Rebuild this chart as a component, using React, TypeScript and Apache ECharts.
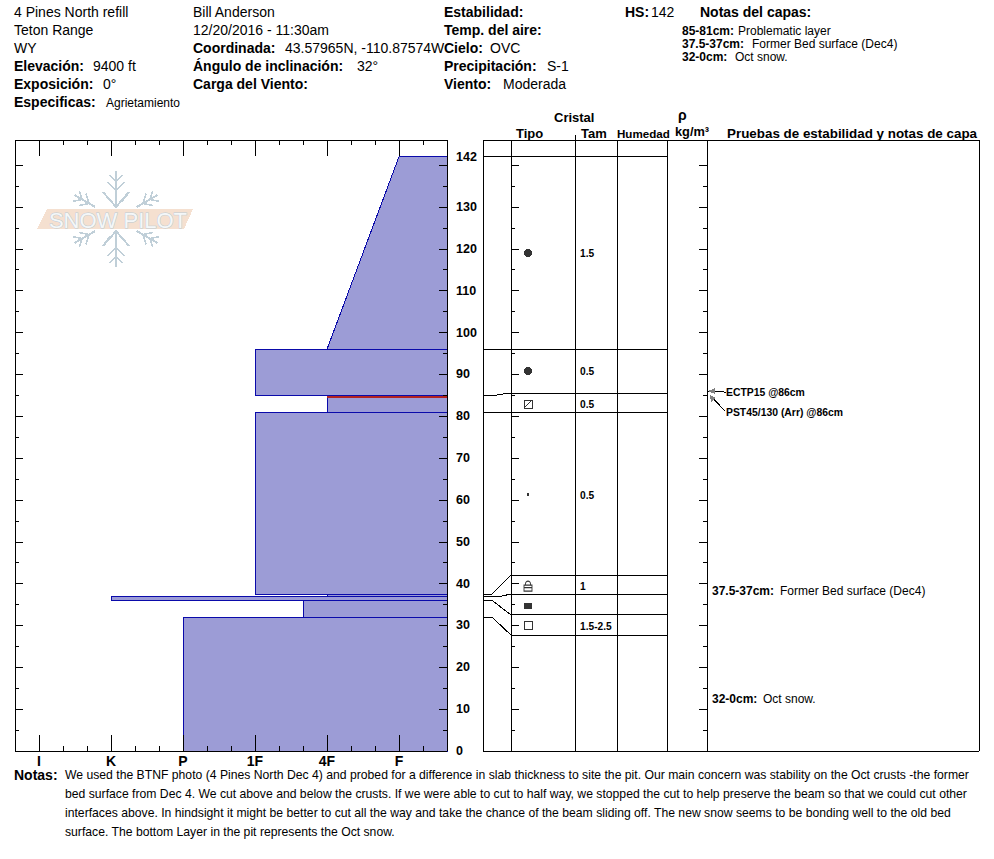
import React, { useEffect, useRef } from "react";
import * as echarts from "echarts";

const FONT = "'Liberation Sans', Arial, sans-serif";
const FRAME = "#000000";
const LAYER_FILL = "#9c9cd6";
const LAYER_STROKE = "#0a0aaa";

// Hardness scale (one hardness step = 3 scale units)
const hardnessMajor = [3, 6, 9, 12, 15, 18];
const hardnessMinor = [4, 5, 7, 8, 10, 11, 13, 14, 16, 17, 19, 20];
const hardnessNames = ["I", "K", "P", "1F", "4F", "F"];
const HARD_MIN = 2;
const HARD_MAX = 20;

// Depth scale (cm)
const DEPTH_MAX = 146;
const depthMajor = [0, 10, 20, 30, 40, 50, 60, 70, 80, 90, 100, 110, 120, 130, 140];
const depthMinor = [5, 15, 25, 35, 45, 55, 65, 75, 85, 95, 105, 115, 125, 135];
const depthLabels = [0, 10, 20, 30, 40, 50, 60, 70, 80, 90, 100, 110, 120, 130, 142];

// Profile layers
const layerTop = [142, 96, 85, 81, 37.5, 37, 36, 32];
const layerBottom = [96, 85, 81, 37.5, 37, 36, 32, 0];
const layerHardTop = [18, 12, 15, 12, 15, 6, 14, 9];
const layerHardBottom = [15, 12, 15, 12, 15, 6, 14, 9];
const problemDepth = [84.6];

// Crystal table
const rowRealDepth = [142, 96, 85, 81, 37.5, 37, 36, 32];
const rowShownDepth = [142, 96, 85.5, 80.8, 42, 37.3, 32.5, 27.7];
const grainDepth = [119, 90.8, 82.9, 61.2, 39.4, 34.6, 29.9];
const grainKind = ["round", "round", "facetRound", "dot", "lock", "solid", "square"];
const sizeDepth = [118.8, 90.6, 82.8, 61, 39.4, 29.8];
const sizeText = ["1.5", "0.5", "0.5", "0.5", "1", "1.5-2.5"];
const testDepth = [86, 86];
const testText = ["ECTP15 @86cm", "PST45/130 (Arr) @86cm"];

// Table layout in the right panel's own scale (offsets from its left edge)
const PANEL_W = 496;
const COL_LEFT = 28;
const COL_TAM = 92;
const COL_HUM = 134;
const COL_RHO = 184;
const COL_TESTS = 224;
const COL_GRAIN = 45;
const COL_SIZE = 97;

const notes = [
  "We used the BTNF photo (4 Pines North Dec 4) and probed for a difference in slab thickness to site the pit. Our main concern was stability on the Oct crusts -the former",
  "bed surface from Dec 4. We cut above and below the crusts. If we were able to cut to half way, we stopped the cut to help preserve the beam so that we could cut other",
  "interfaces above. In hindsight it might be better to cut all the way and take the chance of the beam sliding off. The new snow seems to be bonding well to the old bed",
  "surface. The bottom Layer in the pit represents the Oct snow.",
];

// [x, y, text, weight, size]
const texts: [number, number, string, string, number][] = [
  [14, 12, "4 Pines North refill", "normal", 14],
  [14, 30, "Teton Range", "normal", 14],
  [14, 48, "WY", "normal", 14],
  [14, 66, "Elevación:", "bold", 14],
  [93, 66, "9400 ft", "normal", 14],
  [14, 84, "Exposición:", "bold", 14],
  [103, 84, "0°", "normal", 14],
  [14, 102, "Especificas:", "bold", 14],
  [106, 103, "Agrietamiento", "normal", 12],
  [193, 12, "Bill Anderson", "normal", 14],
  [193, 30, "12/20/2016 - 11:30am", "normal", 14],
  [193, 48, "Coordinada:", "bold", 14],
  [285, 48, "43.57965N, -110.87574W", "normal", 14],
  [193, 66, "Ángulo de inclinación:", "bold", 14],
  [357, 66, "32°", "normal", 14],
  [193, 84, "Carga del Viento:", "bold", 14],
  [444, 12, "Estabilidad:", "bold", 14],
  [444, 30, "Temp. del aire:", "bold", 14],
  [444, 48, "Cielo:", "bold", 14],
  [490, 48, "OVC", "normal", 14],
  [444, 66, "Precipitación:", "bold", 14],
  [547, 66, "S-1", "normal", 14],
  [444, 84, "Viento:", "bold", 14],
  [503, 84, "Moderada", "normal", 14],
  [625, 12, "HS:", "bold", 14],
  [651, 12, "142", "normal", 14],
  [700, 12, "Notas del capas:", "bold", 14],
  [682, 31, "85-81cm:", "bold", 12],
  [738, 31, "Problematic layer", "normal", 12],
  [682, 44, "37.5-37cm:", "bold", 12],
  [752, 44, "Former Bed surface (Dec4)", "normal", 12],
  [682, 57, "32-0cm:", "bold", 12],
  [735, 57, "Oct snow.", "normal", 12],
  [554, 117, "Cristal", "bold", 13],
  [516, 133, "Tipo", "bold", 13],
  [581, 133, "Tam", "bold", 13],
  [617, 133, "Humedad", "bold", 11.6],
  [678, 115, "ρ", "bold", 14],
  [675, 131, "kg/m³", "bold", 12.8],
  [727, 133, "Pruebas de estabilidad y notas de capa", "bold", 13.4],
  [712, 591, "37.5-37cm:", "bold", 12],
  [780, 591, "Former Bed surface (Dec4)", "normal", 12],
  [712, 699, "32-0cm:", "bold", 12],
  [763, 699, "Oct snow.", "normal", 12],
  [14, 775, "Notas:", "bold", 14],
];
const NOTE_Y = [775, 794, 813, 832];

function textEl(x: number, y: number, text: string, weight: string, size: number) {
  return {
    type: "text",
    x,
    y,
    silent: true,
    style: { text, fill: "#000", font: `${weight} ${size}px ${FONT}`, verticalAlign: "middle", align: "left" },
  };
}

function logoElements() {
  const cx = 116;
  const cy = 219;
  const els: any[] = [];
  const add = (pts: number[][], rot: number, w = 1.5) => {
    const c = Math.cos(rot);
    const s = Math.sin(rot);
    els.push({
      type: "polyline",
      silent: true,
      shape: { points: pts.map(([x, y]) => [cx + x * c - y * s, cy + x * s + y * c]) },
      style: { stroke: "#c0cfd8", lineWidth: w, fill: "none" },
    });
  };
  for (const r of [0, Math.PI]) {
    add([[0, -12], [0, -48]], r, 2);
    add([[-13, -27], [0, -12], [13, -27]], r, 2);
    add([[-8, -37], [0, -28], [8, -37]], r);
    add([[-6, -44], [0, -37], [6, -44]], r);
  }
  for (const r of [Math.PI / 3, (2 * Math.PI) / 3, (-Math.PI) / 3, (-2 * Math.PI) / 3]) {
    add([[0, -24], [0, -48]], r, 2);
    add([[-7, -39], [0, -31], [7, -39]], r);
    add([[-6, -46], [0, -39], [6, -46]], r);
    add([[-15, -22], [-12, -14]], r, 1);
  }
  els.push({
    type: "polygon",
    silent: true,
    shape: { points: [[47, 209], [193, 209], [184, 229], [37, 229]] },
    style: { fill: "#f5e0d0" },
  });
  els.push({
    type: "text",
    x: 118,
    y: 220,
    silent: true,
    style: {
      text: "SNOW PILOT",
      font: `normal 22px ${FONT}`,
      fill: "#f4f7f8",
      stroke: "#bccbd4",
      lineWidth: 1,
      align: "center",
      verticalAlign: "middle",
    },
  });
  return els;
}

const GRAIN_SYMBOLS: Record<string, any> = {
  round: { symbol: "circle", symbolSize: 8, itemStyle: { color: "#000" } },
  dot: { symbol: "circle", symbolSize: 3, itemStyle: { color: "#000" } },
  solid: { symbol: "rect", symbolSize: [8, 6], itemStyle: { color: "#000" } },
  square: { symbol: "rect", symbolSize: 8, itemStyle: { color: "none", borderColor: "#000", borderWidth: 1 } },
  facetRound: {
    symbol: "path://M0 0H8V8H0Z M0 8L8 0",
    symbolSize: 8,
    itemStyle: { color: "none", borderColor: "#000", borderWidth: 1 },
  },
  lock: {
    symbol: "path://M0 4H8V10H0Z M0 6.5H8 M1.5 4V2.5A2.5 2.5 0 0 1 6.5 2.5V4",
    symbolSize: [8, 10],
    itemStyle: { color: "none", borderColor: "#000", borderWidth: 1 },
  },
};

function hardAxis(position: string, ticks: number[], length: number, labels = false) {
  return {
    type: "value",
    gridIndex: 0,
    position,
    min: HARD_MIN,
    max: HARD_MAX,
    interval: 1,
    z: 6,
    axisLine: { show: true, onZero: false, lineStyle: { color: FRAME, width: 1 } },
    axisTick: { show: true, inside: true, length, customValues: ticks, lineStyle: { color: FRAME, width: 1 } },
    splitLine: { show: false },
    axisLabel: labels
      ? {
          show: true,
          customValues: hardnessMajor,
          margin: 3,
          color: "#000",
          fontFamily: FONT,
          fontWeight: "bold",
          fontSize: 14,
          formatter: (v: number) => hardnessNames[hardnessMajor.indexOf(v)] ?? "",
        }
      : { show: false },
  };
}

function depthAxis(
  gridIndex: number,
  position: string,
  ticks: number[],
  length: number,
  offset = 0,
  labels = false
) {
  return {
    type: "value",
    gridIndex,
    position,
    offset,
    min: 0,
    max: DEPTH_MAX,
    interval: 10,
    z: 6,
    axisLine: { show: true, onZero: false, lineStyle: { color: FRAME, width: 1 } },
    axisTick: {
      show: length > 0,
      inside: true,
      length,
      customValues: ticks,
      lineStyle: { color: FRAME, width: 1 },
    },
    splitLine: { show: false },
    axisLabel: labels
      ? {
          show: true,
          customValues: depthLabels,
          margin: 9,
          color: "#000",
          fontFamily: FONT,
          fontWeight: "bold",
          fontSize: 12.5,
          formatter: (v: number) => String(v),
        }
      : { show: false },
  };
}

function panelXAxis(position: string) {
  return {
    type: "value",
    gridIndex: 1,
    position,
    min: 0,
    max: PANEL_W,
    z: 6,
    axisLine: { show: true, onZero: false, lineStyle: { color: FRAME, width: 1 } },
    axisTick: { show: false },
    splitLine: { show: false },
    axisLabel: { show: false },
  };
}

// Polylines of the table, in the right panel's scale: [column, depth] points
const tableLines: number[][][] = [
  ...[COL_TAM, COL_HUM, COL_RHO].map((c) => [[c, 0], [c, c === COL_TAM ? 147.2 : DEPTH_MAX]]),
  ...rowShownDepth.map((d) => [[COL_LEFT, d], [COL_RHO, d]]),
  ...rowRealDepth.map((real, i) => {
    const shown = rowShownDepth[i];
    const flat = Math.abs(real - shown) < 1;
    return flat
      ? [[0, real], [i === 2 ? 13 : 18, real], [i === 2 ? 24 : COL_LEFT - 4, shown], [COL_LEFT, shown]]
      : [[0, real], [9, real], [COL_LEFT, shown]];
  }),
];

function buildOption(): any {
  const layers = layerTop.map((t, i) => [i, t, layerBottom[i], layerHardTop[i], layerHardBottom[i]]);
  return {
    animation: false,
    backgroundColor: "#fff",
    textStyle: { fontFamily: FONT },
    grid: [
      { left: 15, top: 140, width: 432, height: 611 },
      { left: 483, top: 140, width: PANEL_W, height: 611 },
    ],
    xAxis: [
      hardAxis("bottom", hardnessMajor, 16, true),
      hardAxis("bottom", hardnessMinor, 5),
      hardAxis("top", hardnessMajor, 16),
      hardAxis("top", hardnessMinor, 5),
      panelXAxis("bottom"),
      panelXAxis("top"),
    ],
    yAxis: [
      depthAxis(0, "left", depthMajor, 8),
      depthAxis(0, "left", depthMinor, 4),
      depthAxis(0, "right", depthMajor, 8, 0, true),
      depthAxis(0, "right", depthMinor, 4),
      depthAxis(1, "left", [], 0),
      depthAxis(1, "right", [], 0),
      depthAxis(1, "left", depthMajor, 8, -COL_LEFT),
      depthAxis(1, "left", depthMinor, 4, -COL_LEFT),
      depthAxis(1, "right", depthMajor, 8, -(PANEL_W - COL_TESTS)),
      depthAxis(1, "right", depthMinor, 4, -(PANEL_W - COL_TESTS)),
    ],
    series: [
      {
        type: "custom",
        xAxisIndex: 0,
        yAxisIndex: 0,
        silent: true,
        z: 2,
        encode: { x: 3, y: 1 },
        data: layers,
        renderItem: (_: any, api: any) => {
          const t = api.value(1);
          const b = api.value(2);
          const ht = api.value(3);
          const hb = api.value(4);
          return {
            type: "polygon",
            shape: {
              points: [
                api.coord([ht, t]),
                api.coord([HARD_MAX, t]),
                api.coord([HARD_MAX, b]),
                api.coord([hb, b]),
              ],
            },
            style: { fill: LAYER_FILL, stroke: LAYER_STROKE, lineWidth: 1 },
          };
        },
      },
      {
        type: "line",
        xAxisIndex: 0,
        yAxisIndex: 0,
        silent: true,
        z: 3,
        showSymbol: false,
        lineStyle: { color: "#b22222", width: 2 },
        data: [
          [layerHardTop[2], problemDepth[0]],
          [HARD_MAX, problemDepth[0]],
        ],
      },
      {
        type: "custom",
        xAxisIndex: 4,
        yAxisIndex: 4,
        silent: true,
        z: 3,
        encode: { x: 0, y: 1 },
        data: tableLines.map((_, i) => [i, 0]),
        renderItem: (_: any, api: any) => ({
          type: "polyline",
          shape: { points: tableLines[api.value(0)].map((p) => api.coord(p)) },
          style: { stroke: "#000", lineWidth: 1, fill: "none" },
        }),
      },
      {
        type: "scatter",
        xAxisIndex: 4,
        yAxisIndex: 4,
        silent: true,
        z: 4,
        data: grainDepth.map((d, i) => ({ value: [COL_GRAIN, d], ...GRAIN_SYMBOLS[grainKind[i]] })),
      },
      {
        type: "custom",
        xAxisIndex: 4,
        yAxisIndex: 4,
        silent: true,
        z: 4,
        encode: { x: 0, y: 1 },
        data: sizeDepth.map((d, i) => [COL_SIZE, d, i]),
        renderItem: (_: any, api: any) => {
          const p = api.coord([api.value(0), api.value(1)]);
          return {
            type: "text",
            x: p[0],
            y: p[1],
            style: {
              text: sizeText[api.value(2)],
              font: `bold 10.2px ${FONT}`,
              fill: "#000",
              verticalAlign: "middle",
            },
          };
        },
      },
      {
        type: "custom",
        xAxisIndex: 4,
        yAxisIndex: 4,
        silent: true,
        z: 5,
        encode: { x: 0, y: 1 },
        data: testDepth.map((d, i) => [COL_TESTS, d, i]),
        renderItem: (_: any, api: any) => {
          const i = api.value(2);
          const p = api.coord([api.value(0), api.value(1)]);
          const ox = p[0];
          const oy = p[1];
          const start = i === 0 ? [ox + 19, oy + 1] : [ox + 18, oy + 20];
          const tip = i === 0 ? [ox + 1, oy] : [ox + 3, oy + 4];
          const head =
            i === 0
              ? [tip, [ox + 8, oy - 3], [ox + 8, oy + 3]]
              : [tip, [ox + 9, oy + 7], [ox + 4, oy + 11]];
          return {
            type: "group",
            children: [
              {
                type: "polyline",
                shape: { points: [start, tip] },
                style: { stroke: "#000", lineWidth: 1, fill: "none" },
              },
              { type: "polygon", shape: { points: head }, style: { fill: "#808080" } },
              {
                type: "text",
                x: ox + 19,
                y: i === 0 ? oy + 1 : oy + 21,
                style: {
                  text: testText[i],
                  font: `bold 10.4px ${FONT}`,
                  fill: "#000",
                  verticalAlign: "middle",
                },
              },
            ],
          };
        },
      },
    ],
    graphic: {
      elements: [
        ...logoElements(),
        ...texts.map(([x, y, t, w, s]) => textEl(x, y, t, w, s)),
        ...notes.map((t, i) => textEl(65, NOTE_Y[i], t, "normal", 12.2)),
      ],
    },
  };
}

export default function App() {
  const ref = useRef<HTMLDivElement>(null);
  useEffect(() => {
    document.body.style.margin = "0";
    const chart = echarts.init(ref.current!, undefined, { renderer: "svg" });
    chart.setOption(buildOption());
    return () => chart.dispose();
  }, []);
  return (
    <>
      <style>{`svg path, svg line, svg polyline, svg polygon, svg rect, svg circle { shape-rendering: crispEdges; }`}</style>
      <div ref={ref} style={{ position: "absolute", left: 0, top: 0, width: 994, height: 859 }} />
    </>
  );
}
